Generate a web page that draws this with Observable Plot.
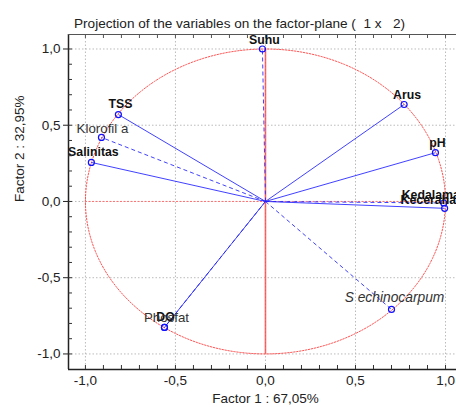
<!DOCTYPE html>
<html>
<head>
<meta charset="utf-8">
<script src="https://cdn.jsdelivr.net/npm/d3@7"></script>
<script src="https://cdn.jsdelivr.net/npm/@observablehq/plot@0.6"></script>
<style>
  html, body { margin: 0; padding: 0; background: #fff; overflow: hidden; }
  svg { display: block; }
</style>
</head>
<body>
<div id="chart"></div>
<script>
// ---- data ----
const variables = ["Suhu", "Arus", "pH", "Kedalaman", "Kecerahan", "TSS", "Klorofil a", "Salinitas", "DO", "Phosfat", "S echinocarpum"];
const factor1 = [-0.017, 0.77, 0.944, 0.99, 0.995, -0.817, -0.911, -0.967, -0.561, -0.561, 0.70];
const factor2 = [1.0, 0.636, 0.32, -0.01, -0.045, 0.57, 0.42, 0.256, -0.826, -0.826, -0.708];
const kind = ["active", "active", "active", "active", "active", "active", "supp", "active", "active", "supp", "supp"];
const majorTicks = [-1, -0.5, 0, 0.5, 1];

// ---- styles (label placement) ----
const labelStyle = {
  "Suhu": {dx: 2, dy: -9, anchor: "middle"},
  "Arus": {dx: 3, dy: -9, anchor: "middle"},
  "pH": {dx: 2, dy: -10, anchor: "middle"},
  "Kedalaman": {dx: -42, dy: -8, anchor: "start"},
  "Kecerahan": {dx: -44, dy: -8, anchor: "start"},
  "TSS": {dx: 2, dy: -10, anchor: "middle"},
  "Klorofil a": {dx: 1, dy: -9, anchor: "middle"},
  "Salinitas": {dx: 2, dy: -10, anchor: "middle"},
  "DO": {dx: 1, dy: -10, anchor: "middle"},
  "Phosfat": {dx: 2, dy: -10, anchor: "middle"},
  "S echinocarpum": {dx: 3, dy: -12, anchor: "middle"}
};
const dashedLines = new Set(["Suhu", "Kedalaman", "Klorofil a", "Phosfat", "S echinocarpum"]);

const table = variables.map((v, i) => ({name: v, x: factor1[i], y: factor2[i], kind: kind[i]}));
const minorTicks = d3.range(-10, 11).map(i => i / 10);
const circle = d3.range(0, 361, 2).map(a => ({x: Math.cos(a * Math.PI / 180), y: Math.sin(a * Math.PI / 180)}));

const xDomain = [-1.094, 1.061];
const yDomain = [-1.102, 1.095];
const fmt = d => (Math.abs(d) < 1e-9 ? 0 : d).toFixed(1).replace(".", ",");

const W = 456, H = 407, mT = 34, mB = 38, mL = 68, mR = 0;
const innerH = H - mT - mB, innerW = W - mL - mR;

const textMarks = table.map(d => {
  const s = labelStyle[d.name];
  const bold = d.kind === "active";
  const italic = d.name === "S echinocarpum";
  return Plot.text([d], {
    x: "x", y: "y", text: "name",
    dx: s.dx, dy: s.dy, textAnchor: s.anchor,
    fontWeight: bold ? "bold" : "normal",
    fontStyle: italic ? "italic" : "normal",
    fontSize: bold ? 12.3 : (italic ? 13.8 : 13.3),
    fill: bold ? "#111" : "#333"
  });
});

const solid = table.filter(d => !dashedLines.has(d.name));
const dashed = table.filter(d => dashedLines.has(d.name));

const chart = Plot.plot({
  width: W, height: H,
  marginTop: mT, marginBottom: mB, marginLeft: mL, marginRight: mR,
  style: {fontFamily: "'Liberation Sans', Arial, sans-serif", fontSize: "12px", background: "#fff", overflow: "visible"},
  x: {domain: xDomain},
  y: {domain: yDomain},
  marks: [
    // grid
    Plot.ruleX(majorTicks, {stroke: "#bbb", strokeDasharray: "1.5,2", strokeWidth: 1}),
    Plot.ruleY(majorTicks, {stroke: "#bbb", strokeDasharray: "1.5,2", strokeWidth: 1}),
    // unit circle
    Plot.line(circle, {x: "x", y: "y", stroke: "#ff5555", strokeDasharray: "1.5,1.5", strokeWidth: 1, curve: "linear"}),
    // red axes through origin
    Plot.ruleY([0], {x1: -1, x2: 1, stroke: "#ff7070", strokeDasharray: "2,1.5", strokeWidth: 1}),
    Plot.ruleX([0], {y1: -1, y2: 1, stroke: "#ff4040", strokeWidth: 1.6, strokeOpacity: 0.8}),
    // vectors
    Plot.link(solid, {x1: () => 0, y1: () => 0, x2: "x", y2: "y", stroke: "#2020ff", strokeWidth: 1, strokeOpacity: 0.85}),
    Plot.link(dashed, {x1: () => 0, y1: () => 0, x2: "x", y2: "y", stroke: "#2020ff", strokeWidth: 1, strokeOpacity: 0.85, strokeDasharray: "4,3"}),
    Plot.dot(table, {x: "x", y: "y", r: 3, stroke: "#1010ff", strokeWidth: 1.2, fill: "none"}),
    ...textMarks,
    // frame lines
    Plot.ruleX([xDomain[0]], {stroke: "#222", strokeWidth: 1.5}),
    Plot.ruleY([yDomain[0]], {stroke: "#222", strokeWidth: 1.5}),
    Plot.ruleY([yDomain[1]], {stroke: "#555", strokeWidth: 1}),
    // minor ticks (inside)
    Plot.tickX(minorTicks, {x: d => d, insetTop: innerH - 4, stroke: "#333"}),
    Plot.tickX(minorTicks, {x: d => d, insetBottom: innerH - 4, stroke: "#555"}),
    Plot.tickY(minorTicks, {y: d => d, insetRight: innerW - 4, stroke: "#333"}),
    // axes
    Plot.axisX(majorTicks, {anchor: "bottom", tickSize: 0, tickPadding: 6, tickFormat: fmt, fill: "#222", label: null, fontSize: 13.5}),
    Plot.axisY(majorTicks, {anchor: "left", tickSize: 5, tickPadding: 3, tickFormat: fmt, fill: "#222", stroke: "#222", label: null, fontSize: 13.5}),
    // axis titles
    Plot.text(["Factor 1 : 67,05%"], {frameAnchor: "bottom", dy: 33, dx: 3, fontSize: 13.5, fill: "#222"}),
    Plot.text(["Factor 2 : 32,95%"], {frameAnchor: "left", dx: -49, rotate: -90, fontSize: 13.5, fill: "#222"}),
    Plot.text(["Projection of the variables on the factor-plane (  1 x   2)"], {frameAnchor: "top", dy: -16, dx: -23, fontSize: 13.6, fill: "#222"})
  ]
});
document.getElementById("chart").appendChild(chart);
</script>
</body>
</html>
